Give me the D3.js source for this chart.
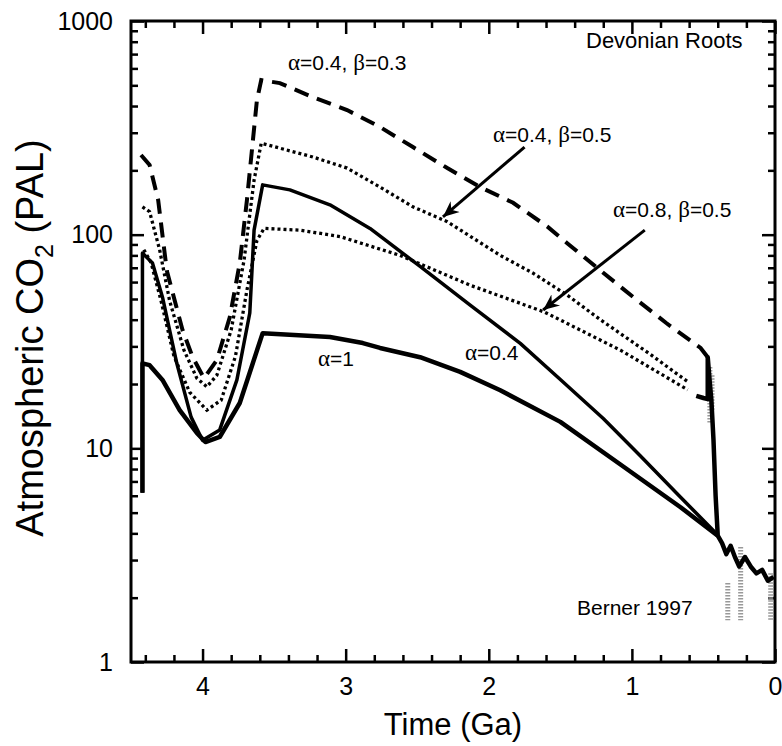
<!DOCTYPE html>
<html>
<head>
<meta charset="utf-8">
<script src="https://cdn.jsdelivr.net/npm/d3@7"></script>
<style>
body { margin: 0; background: #fff; }
svg text { font-family: "Liberation Sans", Arial, sans-serif; fill: #000; }
.greek { font-family: "Liberation Serif", "DejaVu Serif", serif; }
</style>
</head>
<body>
<div id="chart"></div>
<script>
// axis ticks
var timeTicks = [4, 3, 2, 1, 0]
var co2Ticks = [1, 10, 100, 1000]

// alpha = 1 (solid, thick)
var alpha1Time = [4.42, 4.42, 4.37, 4.28, 4.16, 4.04, 3.98, 3.88, 3.74, 3.58, 3.11, 2.88, 2.76, 2.48, 2.20, 1.92, 1.50, 1.08, 0.66, 0.40]
var alpha1Co2  = [6.2, 25, 24.5, 20.9, 15.1, 11.8, 10.7, 11.3, 16.3, 34.6, 33.2, 31.1, 29.5, 26.7, 22.8, 18.7, 13.3, 8.4, 5.3, 3.9]

// alpha = 0.4 (solid)
var alpha04Time = [4.42, 4.42, 4.35, 4.28, 4.18, 4.08, 4.00, 3.88, 3.76, 3.67, 3.64, 3.58, 3.39, 3.11, 2.83, 2.48, 2.13, 1.78, 1.50, 1.20, 0.94, 0.67, 0.40]
var alpha04Co2  = [6.2, 82, 73.6, 51, 25, 14, 10.9, 12.2, 20.9, 43, 105, 171, 162, 138, 107, 71, 46.8, 31, 21, 13.8, 9.2, 6.0, 3.93]

// alpha = 0.4, beta = 0.3 (dashed)
var a04b03Time = [4.43, 4.37, 4.31, 4.25, 4.14, 4.07, 3.99, 3.90, 3.81, 3.74, 3.69, 3.62, 3.59, 3.46, 3.23, 2.99, 2.76, 2.53, 2.29, 2.06, 1.83, 1.59, 1.45, 1.22, 0.99, 0.76, 0.52, 0.47]
var a04b03Co2  = [236, 212, 145, 68, 35.8, 26.8, 21.3, 25.9, 41, 73.6, 145, 427, 529, 512, 440, 383, 319, 257, 205, 167, 141, 109, 91, 68, 51, 38.6, 29.5, 26.7]

// alpha = 0.4, beta = 0.5 (dotted, upper)
var a04b05Time = [4.42, 4.37, 4.30, 4.23, 4.13, 4.04, 3.97, 3.90, 3.80, 3.71, 3.64, 3.59, 3.23, 2.99, 2.76, 2.53, 2.29, 1.92, 1.69, 1.45, 1.22, 0.87, 0.61]
var a04b05Co2  = [135, 128, 85, 49, 28.8, 21.3, 19.4, 22, 35.8, 76, 180, 268, 231, 205, 167, 135, 115, 80, 66, 52, 40, 27.5, 20.5]

// alpha = 0.8, beta = 0.5 (dotted, lower)
var a08b05Time = [4.41, 4.36, 4.29, 4.20, 4.09, 3.97, 3.87, 3.77, 3.69, 3.62, 3.57, 3.32, 3.04, 2.62, 2.13, 1.61, 1.08, 0.61]
var a08b05Co2  = [85, 74, 49, 27, 18.3, 15.1, 16.8, 27, 55, 94, 107, 105, 98, 80, 58, 43.4, 28.8, 18.8]

// Phanerozoic record (Berner 1997)
var bernerTime = [0.55, 0.50, 0.47, 0.47, 0.455, 0.445, 0.43, 0.415, 0.40, 0.37, 0.34, 0.31, 0.28, 0.25, 0.21, 0.17, 0.13, 0.09, 0.05, 0.01]
var bernerCo2  = [17.6, 17.2, 17, 26.7, 20, 17, 11, 6, 3.9, 3.6, 3.2, 3.5, 3.1, 2.8, 3.1, 2.8, 2.6, 2.7, 2.4, 2.5]

// grey scatter streaks: time, top and bottom of each streak
var streakTime   = [0.455, 0.44, 0.33, 0.24, 0.03]
var streakTop    = [24, 22, 2.34, 3.45, 2.6]
var streakBottom = [13, 15, 1.57, 1.57, 1.57]

function pts(ts, vs){ return ts.map(function(t, i){ return {t: t, v: vs[i]} }) }

var width = 782
var height = 746

var svg = d3.select("#chart").append("svg")
	.attr("width", width)
	.attr("height", height)

var x = d3.scaleLinear().domain([4.5, 0]).range([131, 775])
var y = d3.scaleLog().domain([1, 1000]).range([662, 21])

var minorX = d3.range(0.2, 4.5, 0.2).filter(function(d){ return Math.abs(d - Math.round(d)) > 0.01 })
var minorY = []
co2Ticks.slice(0, 3).forEach(function(d){
	for (var k = 2; k < 10; k++) minorY.push(d * k)
})

// ticks, all pointing inward
function tickAxis(axis, vals, size, tr){
	var g = svg.append("g")
		.attr("transform", tr)
		.call(axis.tickValues(vals).tickSize(-size).tickSizeOuter(0).tickFormat(""))
	g.select(".domain").remove()
	g.selectAll("line").attr("stroke", "#000").attr("stroke-width", 2.5)
	return g
}
tickAxis(d3.axisLeft(y), minorY, 7, "translate(131,0)")
tickAxis(d3.axisLeft(y), co2Ticks, 13, "translate(131,0)")
tickAxis(d3.axisRight(y), minorY, 7, "translate(775,0)")
tickAxis(d3.axisRight(y), co2Ticks, 13, "translate(775,0)")
tickAxis(d3.axisBottom(x), minorX, 7, "translate(0,662)")
tickAxis(d3.axisBottom(x), timeTicks, 13, "translate(0,662)")
tickAxis(d3.axisTop(x), minorX, 7, "translate(0,21)")
tickAxis(d3.axisTop(x), timeTicks, 13, "translate(0,21)")

// tick labels
var yl = svg.append("g")
	.attr("transform", "translate(131,0)")
	.call(d3.axisLeft(y).tickValues(co2Ticks).tickSize(0).tickPadding(18).tickFormat(d3.format("d")))
yl.select(".domain").remove()
yl.selectAll("text").style("font-size", "25px")

var xl = svg.append("g")
	.attr("transform", "translate(0,662)")
	.call(d3.axisBottom(x).tickValues(timeTicks).tickSize(0).tickPadding(15).tickFormat(d3.format("d")))
xl.select(".domain").remove()
xl.selectAll("text").style("font-size", "25px")

// frame
svg.append("rect")
	.attr("x", 131).attr("y", 21)
	.attr("width", 775 - 131).attr("height", 662 - 21)
	.attr("fill", "none").attr("stroke", "#000").attr("stroke-width", 3)

var line = d3.line()
	.x(function(d){ return x(d.t) })
	.y(function(d){ return y(d.v) })

svg.selectAll("line.streak")
	.data(streakTime)
	.enter().append("line")
	.attr("class", "streak")
	.attr("x1", function(d){ return x(d) })
	.attr("x2", function(d){ return x(d) })
	.attr("y1", function(d, i){ return y(streakTop[i]) })
	.attr("y2", function(d, i){ return y(streakBottom[i]) })
	.attr("stroke", "#999").attr("stroke-width", 5)
	.attr("stroke-dasharray", "1.5,1.5")

svg.append("path").datum(pts(a04b03Time, a04b03Co2))
	.attr("d", line).attr("fill", "none").attr("stroke", "#000")
	.attr("stroke-width", 4).attr("stroke-dasharray", "15,9")

svg.append("path").datum(pts(a04b05Time, a04b05Co2))
	.attr("d", line).attr("fill", "none").attr("stroke", "#000")
	.attr("stroke-width", 3.3).attr("stroke-dasharray", "3,3")

svg.append("path").datum(pts(a08b05Time, a08b05Co2))
	.attr("d", line).attr("fill", "none").attr("stroke", "#000")
	.attr("stroke-width", 3.3).attr("stroke-dasharray", "3,3")

svg.append("path").datum(pts(alpha04Time, alpha04Co2))
	.attr("d", line).attr("fill", "none").attr("stroke", "#000")
	.attr("stroke-width", 3.5).attr("stroke-linejoin", "round")

svg.append("path").datum(pts(alpha1Time, alpha1Co2))
	.attr("d", line).attr("fill", "none").attr("stroke", "#000")
	.attr("stroke-width", 4.5).attr("stroke-linejoin", "round")

svg.append("path").datum(pts(bernerTime, bernerCo2))
	.attr("d", line).attr("fill", "none").attr("stroke", "#000")
	.attr("stroke-width", 4.5).attr("stroke-linejoin", "round")

// arrows
svg.append("defs").append("marker")
	.attr("id", "head")
	.attr("viewBox", "-16 -8 18 16")
	.attr("refX", 0).attr("refY", 0)
	.attr("markerWidth", 18).attr("markerHeight", 16)
	.attr("markerUnits", "userSpaceOnUse")
	.attr("orient", "auto")
	.append("path")
	.attr("d", "M0,0 L-16,-7 L-11,0 L-16,7 Z")
	.attr("fill", "#000")

function arrow(t0, v0, t1, v1){
	svg.append("line")
		.attr("x1", x(t0)).attr("y1", y(v0))
		.attr("x2", x(t1)).attr("y2", y(v1))
		.attr("stroke", "#000").attr("stroke-width", 3)
		.attr("marker-end", "url(#head)")
}
arrow(1.75, 257, 2.32, 121)
arrow(0.91, 105, 1.62, 44.4)

// labels
function label(px, py, parts, size){
	var t = svg.append("text").attr("x", px).attr("y", py).style("font-size", size + "px")
	parts.forEach(function(p){
		var s = t.append("tspan").text(p)
		if (p == "\u03b1" || p == "\u03b2") s.attr("class", "greek").style("font-size", (size + 2) + "px")
	})
}
label(288, 70, ["\u03b1", "=0.4, ", "\u03b2", "=0.3"], 21)
label(493, 142, ["\u03b1", "=0.4, ", "\u03b2", "=0.5"], 21)
label(613, 217, ["\u03b1", "=0.8, ", "\u03b2", "=0.5"], 21)
label(318, 366, ["\u03b1", "=1"], 21)
label(465, 360, ["\u03b1", "=0.4"], 21)

svg.append("text").attr("x", 586).attr("y", 48)
	.style("font-size", "22px").text("Devonian Roots")
svg.append("text").attr("x", 577).attr("y", 615)
	.style("font-size", "21px").text("Berner 1997")

// axis titles
svg.append("text")
	.attr("x", 453).attr("y", 735)
	.attr("text-anchor", "middle")
	.style("font-size", "31px")
	.text("Time (Ga)")

var yt = svg.append("text")
	.attr("transform", "translate(43,338) rotate(-90)")
	.attr("text-anchor", "middle")
	.style("font-size", "38px")
yt.append("tspan").text("Atmospheric CO")
yt.append("tspan").attr("dy", 10).style("font-size", "25px").text("2")
yt.append("tspan").attr("dy", -10).text(" (PAL)")
</script>
</body>
</html>
